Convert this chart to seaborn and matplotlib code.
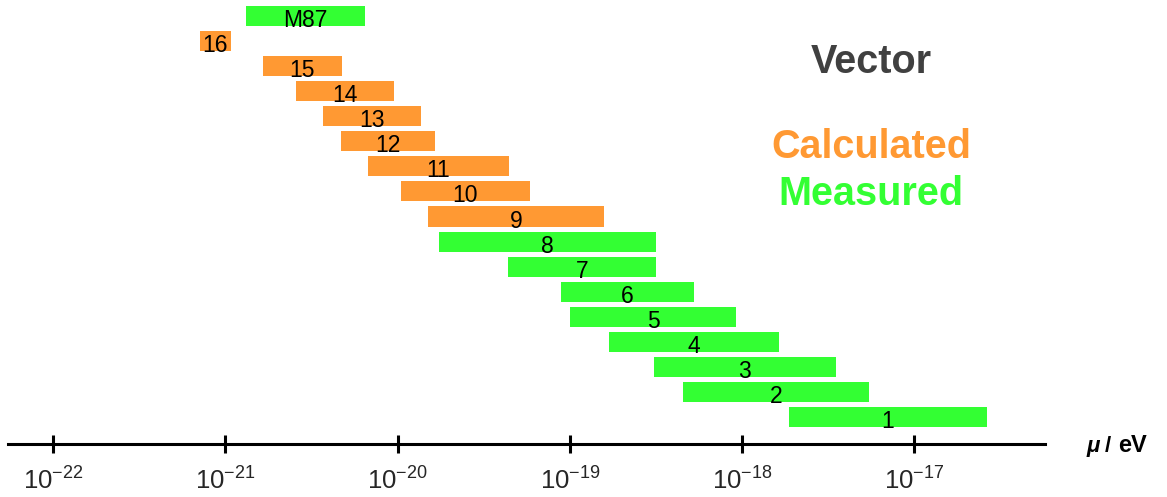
import matplotlib
matplotlib.use("Agg")
import matplotlib.pyplot as plt
import matplotlib.ticker as mticker
import seaborn as sns

# bars from top to bottom
labels = ["M87", "16", "15", "14", "13", "12", "11", "10", "9",
          "8", "7", "6", "5", "4", "3", "2", "1"]
kind = ["Measured"] + ["Calculated"] * 8 + ["Measured"] * 8
mu_low = [1.32e-21, 7.1e-22, 1.65e-21, 2.56e-21, 3.7e-21, 4.69e-21, 6.71e-21,
          1.04e-20, 1.5e-20, 1.74e-20, 4.37e-20, 8.87e-20, 1.0e-19, 1.69e-19,
          3.08e-19, 4.54e-19, 1.87e-18]
mu_high = [6.46e-21, 1.07e-21, 4.75e-21, 9.5e-21, 1.36e-20, 1.65e-20, 4.43e-20,
           5.86e-20, 1.58e-19, 3.16e-19, 3.16e-19, 5.26e-19, 9.23e-19, 1.64e-18,
           3.5e-18, 5.43e-18, 2.64e-17]
tick_exps = [-22, -21, -20, -19, -18, -17]

palette = {"Calculated": "#ff9933", "Measured": "#33ff33"}

sns.set_theme(style="white")
plt.rcParams["font.family"] = ["Liberation Sans", "DejaVu Sans"]
plt.rcParams["mathtext.fontset"] = "custom"
plt.rcParams["mathtext.rm"] = "Liberation Sans"
plt.rcParams["mathtext.it"] = "Liberation Sans:italic"
plt.rcParams["mathtext.bf"] = "Liberation Sans:bold"
plt.rcParams["mathtext.default"] = "regular"

W, H = 1167, 497
fig = plt.figure(figsize=(W / 100, H / 100), dpi=100)
ax = fig.add_axes([8 / W, 53 / H, 1037 / W, 444 / H])

rows = list(range(len(labels)))
widths = [hi - lo for lo, hi in zip(mu_low, mu_high)]
ax.barh(rows, widths, left=mu_low, height=0.8,
        color=[palette[k] for k in kind], linewidth=0)

# labels sit at the (log) middle of each bar, a bit low
for r, lab, lo, hi in zip(rows, labels, mu_low, mu_high):
    ax.text((lo * hi) ** 0.5, r + 0.44, lab, ha="center", va="baseline",
            fontsize=16.5, color="black")

ax.set_xscale("log")
ax.set_xlim(10 ** -22.263, 10 ** -16.241)
ax.set_ylim(17.08, -0.64)
ax.xaxis.set_major_locator(mticker.FixedLocator([10.0 ** e for e in tick_exps]))
ax.xaxis.set_minor_locator(mticker.NullLocator())
ax.set_yticks([])
sns.despine(ax=ax, left=True)
ax.spines["bottom"].set_linewidth(2.2)
ax.spines["bottom"].set_color("black")
ax.tick_params(axis="x", direction="inout", length=13, width=2.2,
               color="black", labelsize=18.5, pad=10, bottom=True)

fig.text(871 / W, 1 - 73 / H, "Vector", ha="center", va="baseline",
         fontsize=28.5, fontweight="bold", color="#404040")
fig.text(871 / W, 1 - 158 / H, "Calculated", ha="center", va="baseline",
         fontsize=28.5, fontweight="bold", color=palette["Calculated"])
fig.text(871 / W, 1 - 205 / H, "Measured", ha="center", va="baseline",
         fontsize=28.5, fontweight="bold", color=palette["Measured"])

# axis label: mu / eV
fig.text(1087 / W, 1 - 452 / H, "μ", ha="left", va="baseline",
         fontsize=16, fontweight="bold", style="italic", color="black")
fig.text(1105 / W, 1 - 452 / H, "/", ha="left", va="baseline",
         fontsize=16, fontweight="bold", color="black")
fig.text(1118 / W, 1 - 452 / H, "eV", ha="left", va="baseline",
         fontsize=17, fontweight="bold", color="black")

fig.savefig("out.png", dpi=100)
